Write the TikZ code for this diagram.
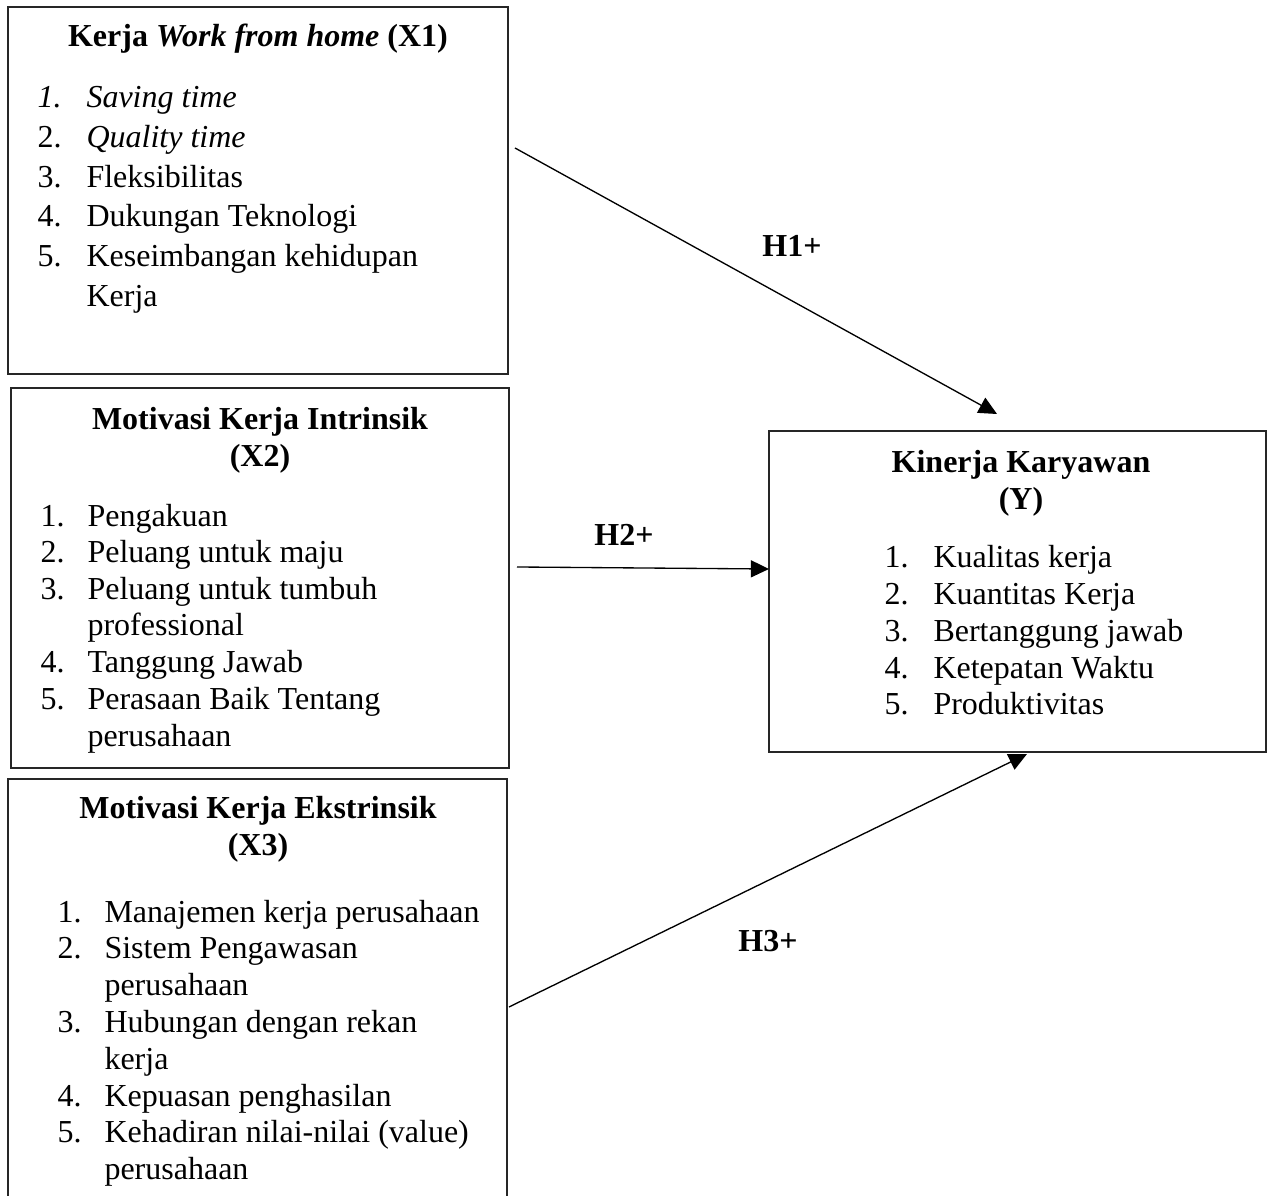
\documentclass[tikz,border=0pt]{standalone}
\usepackage{fontspec}
\setmainfont{Liberation Serif}
\usetikzlibrary{arrows.meta,fit}
\begin{document}
\begin{tikzpicture}[x=0.375pt,y=-0.375pt,
  box/.style={draw=black!85, line width=0.7pt, inner sep=0pt},
  txt/.style={anchor=base west, inner sep=0pt, font=\fontsize{12}{14}\selectfont},
  ttl/.style={anchor=base, inner sep=0pt, font=\fontsize{12}{14}\selectfont\bfseries},
  conn/.style={line width=0.5pt, -{Triangle[length=6.8pt,width=6.4pt]}}]
\useasboundingbox (0,0) rectangle (1274,1196);
\clip (0,0) rectangle (1274,1196);
\fill[white] (0,0) rectangle (1274,1196);

% boxes
\node[box, fit={(8,7) (508,374)}] (x1) {};
\node[box, fit={(11,388) (509,768)}] (x2) {};
\node[box, fit={(8,779) (507,1215)}] (x3) {};
\node[box, fit={(769,431) (1266,752)}] (y) {};

% box X1
\node[ttl] (x1t) at (258,47) {Kerja \textit{Work from home} (X1)};
\node[txt] (x1n1) at (37,108) {\textit{1.}};
\node[txt] (x1i1) at (86,108) {\textit{Saving time}};
\node[txt] (x1n2) at (37,148) {2.};
\node[txt] (x1i2) at (86,148) {\textit{Quality time}};
\node[txt] (x1n3) at (37,188) {3.};
\node[txt] (x1i3) at (86,188) {Fleksibilitas};
\node[txt] (x1n4) at (37,227) {4.};
\node[txt] (x1i4) at (86,227) {Dukungan Teknologi};
\node[txt] (x1n5) at (37,267) {5.};
\node[txt] (x1i5) at (86,267) {Keseimbangan kehidupan};
\node[txt] (x1i5b) at (86,307) {Kerja};

% box X2
\node[ttl] (x2t) at (260,430) {Motivasi Kerja Intrinsik};
\node[ttl] (x2t2) at (260,467) {(X2)};
\node[txt] (x2n1) at (40,527) {1.};
\node[txt] (x2i1) at (87,527) {Pengakuan};
\node[txt] (x2n2) at (40,563) {2.};
\node[txt] (x2i2) at (87,563) {Peluang untuk maju};
\node[txt] (x2n3) at (40,600) {3.};
\node[txt] (x2i3) at (87,600) {Peluang untuk tumbuh};
\node[txt] (x2i3b) at (87,636) {professional};
\node[txt] (x2n4) at (40,673) {4.};
\node[txt] (x2i4) at (87,673) {Tanggung Jawab};
\node[txt] (x2n5) at (40,710) {5.};
\node[txt] (x2i5) at (87,710) {Perasaan Baik Tentang};
\node[txt] (x2i5b) at (87,747) {perusahaan};

% box X3
\node[ttl] (x3t) at (258,819) {Motivasi Kerja Ekstrinsik};
\node[ttl] (x3t2) at (258,856) {(X3)};
\node[txt] (x3n1) at (57,923) {1.};
\node[txt] (x3i1) at (104,923) {Manajemen kerja perusahaan};
\node[txt] (x3n2) at (57,959) {2.};
\node[txt] (x3i2) at (104,959) {Sistem Pengawasan};
\node[txt] (x3i2b) at (104,996) {perusahaan};
\node[txt] (x3n3) at (57,1033) {3.};
\node[txt] (x3i3) at (104,1033) {Hubungan dengan rekan};
\node[txt] (x3i3b) at (104,1070) {kerja};
\node[txt] (x3n4) at (57,1107) {4.};
\node[txt] (x3i4) at (104,1107) {Kepuasan penghasilan};
\node[txt] (x3n5) at (57,1143) {5.};
\node[txt] (x3i5) at (104,1143) {Kehadiran nilai-nilai (value)};
\node[txt] (x3i5b) at (104,1180) {perusahaan};

% box Y
\node[ttl] (yt) at (1021,473) {Kinerja Karyawan};
\node[ttl] (yt2) at (1021,510) {(Y)};
\node[txt] (yn1) at (884,568) {1.};
\node[txt] (yi1) at (933,568) {Kualitas kerja};
\node[txt] (yn2) at (884,605) {2.};
\node[txt] (yi2) at (933,605) {Kuantitas Kerja};
\node[txt] (yn3) at (884,642) {3.};
\node[txt] (yi3) at (933,642) {Bertanggung jawab};
\node[txt] (yn4) at (884,679) {4.};
\node[txt] (yi4) at (933,679) {Ketepatan Waktu};
\node[txt] (yn5) at (884,715) {5.};
\node[txt] (yi5) at (933,715) {Produktivitas};

% hypothesis labels
\node[ttl] (h1) at (792,257) {H1+};
\node[ttl] (h2) at (624,546) {H2+};
\node[ttl] (h3) at (768,952) {H3+};

% connector ends
\coordinate (h1s) at (515,148);
\coordinate (h1e) at (997,414);
\coordinate (h2s) at (517,567);
\coordinate (h2e) at (769,569);
\coordinate (h3s) at (509,1007);
\coordinate (h3e) at (1027,754);

\draw[conn] (h1s) -- (h1e);
\draw[conn] (h2s) -- (h2e);
\draw[conn] (h3s) -- (h3e);
\end{tikzpicture}
\end{document}
